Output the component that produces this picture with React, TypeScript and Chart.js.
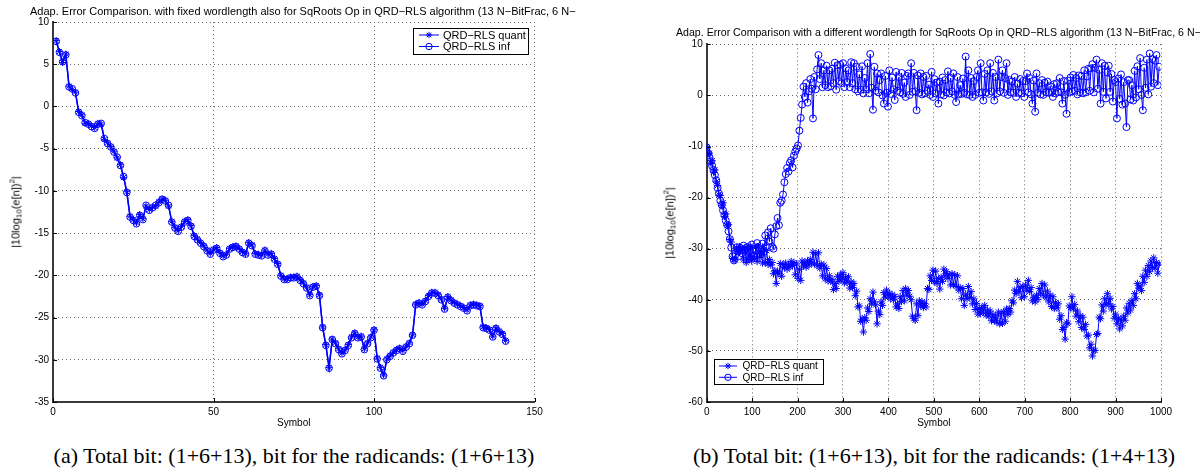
import React, { useEffect, useRef } from 'react';
import { Chart, registerables } from 'chart.js';

Chart.register(...registerables);

const SANS = '"Liberation Sans", Arial, Helvetica, sans-serif';
const SERIF = '"Liberation Serif", "Times New Roman", serif';
const BLUE = '#0000ff';

// ---- (a) fixed wordlength for the square-root operation ----
const symbolsA: number[] = Array.from({ length: 141 }, (_, i) => i + 1);

const errQuantA: number[] = [
  7.8, 6.5, 5.2, 6.2, 2.4, 2.0, 1.7, -0.6, -1.0, -2.0,
  -2.0, -2.3, -2.5, -2.0, -2.1, -3.9, -4.3, -4.75, -5.3, -6.1,
  -6.9, -8.4, -10.1, -13.0, -13.4, -13.8, -12.8, -13.3, -11.8, -12.2,
  -11.9, -11.8, -11.3, -10.95, -11.1, -11.8, -13.6, -14.3, -14.7, -14.2,
  -13.6, -13.4, -14.1, -15.3, -15.7, -16.1, -16.5, -17.0, -17.4, -16.9,
  -16.7, -17.3, -17.7, -17.5, -16.8, -16.6, -16.5, -16.8, -17.2, -17.45,
  -16.1, -16.4, -17.4, -17.5, -17.6, -17.0, -17.5, -17.4, -18.0, -18.6,
  -20.0, -20.4, -20.4, -20.2, -20.2, -20.1, -20.5, -20.9, -21.4, -22.3,
  -21.3, -21.2, -22.3, -26.1, -28.2, -30.9, -27.55, -28.0, -28.7, -29.2,
  -28.8, -28.2, -27.3, -26.8, -27.3, -27.2, -28.7, -28.0, -27.3, -26.45,
  -29.8, -30.9, -31.8, -29.9, -29.5, -29.1, -28.8, -28.6, -28.9, -28.4,
  -28.0, -27.05, -23.4, -23.2, -23.4, -23.0, -22.4, -22.0, -22.0, -22.3,
  -22.8, -23.9, -22.5, -22.9, -23.2, -23.4, -23.6, -23.8, -24.1, -23.5,
  -23.4, -23.5, -23.6, -26.1, -26.2, -26.4, -27.2, -26.2, -26.6, -26.9,
  -27.7,
];

const errInfA: number[] = [
  7.7, 6.4, 5.3, 6.1, 2.3, 2.1, 1.6, -0.7, -1.1, -1.9,
  -2.1, -2.4, -2.6, -2.1, -2.0, -3.8, -4.4, -4.8, -5.4, -6.0,
  -7.0, -8.3, -10.2, -13.1, -13.5, -13.9, -12.9, -13.4, -11.7, -12.3,
  -12.0, -11.7, -11.4, -11.0, -11.2, -11.7, -13.7, -14.4, -14.8, -14.3,
  -13.7, -13.5, -14.2, -15.4, -15.8, -16.2, -16.6, -17.1, -17.5, -17.0,
  -16.8, -17.4, -17.8, -17.6, -16.9, -16.7, -16.6, -16.9, -17.3, -17.5,
  -16.2, -16.5, -17.5, -17.6, -17.7, -17.1, -17.6, -17.5, -18.1, -18.7,
  -20.1, -20.5, -20.5, -20.3, -20.3, -20.2, -20.6, -21.0, -21.5, -22.4,
  -21.4, -21.3, -22.4, -26.2, -28.3, -31.0, -27.6, -28.1, -28.8, -29.3,
  -28.9, -28.3, -27.4, -26.9, -27.4, -27.3, -28.8, -28.1, -27.4, -26.5,
  -29.9, -31.0, -31.9, -30.0, -29.6, -29.2, -28.9, -28.7, -29.0, -28.5,
  -28.1, -27.1, -23.5, -23.3, -23.5, -23.1, -22.5, -22.1, -22.1, -22.4,
  -22.9, -24.0, -22.6, -23.0, -23.3, -23.5, -23.7, -23.9, -24.2, -23.6,
  -23.5, -23.6, -23.7, -26.2, -26.3, -26.5, -27.3, -26.3, -26.7, -27.0,
  -27.8,
];

const xTicksA: number[] = [0, 50, 100, 150];
const yTicksA: number[] = [10, 5, 0, -5, -10, -15, -20, -25, -30, -35];

// ---- (b) different wordlength for the square-root operation ----
// one sample every third symbol
const symbolsB: number[] = Array.from({ length: 333 }, (_, i) => i * 3);

const errQuantB: number[] = [
  -10.0, -11.4, -11.3, -13.2, -12.8, -15.0, -14.6, -16.9, -17.6, -19.5,
  -19.6, -21.6, -21.0, -23.7, -23.2, -25.5, -25.3, -28.2, -28.7, -31.9,
  -32.1, -32.2, -29.8, -30.6, -29.6, -30.5, -30.0, -32.2, -29.8, -32.7,
  -29.9, -32.1, -29.5, -32.4, -31.5, -31.9, -29.7, -32.5, -29.6, -31.7,
  -30.7, -32.8, -30.1, -32.7, -30.4, -33.0, -32.1, -33.2, -32.7, -34.9,
  -34.3, -36.8, -34.4, -34.9, -32.9, -35.4, -33.1, -33.7, -32.8, -34.0,
  -33.2, -33.6, -32.5, -33.3, -32.7, -35.1, -33.0, -35.8, -34.0, -36.2,
  -32.4, -33.4, -32.7, -33.6, -32.4, -33.2, -32.1, -32.8, -30.7, -33.0,
  -31.0, -33.3, -30.8, -33.8, -33.0, -35.3, -33.2, -35.9, -33.9, -36.3,
  -35.3, -36.4, -36.0, -38.0, -36.8, -37.8, -35.4, -36.4, -35.1, -36.0,
  -34.7, -36.7, -35.6, -36.6, -35.5, -37.7, -36.5, -37.6, -36.8, -39.2,
  -38.3, -41.4, -41.2, -44.2, -43.8, -46.3, -43.5, -44.0, -41.6, -42.3,
  -39.8, -40.8, -38.5, -40.4, -41.0, -44.7, -42.2, -42.9, -40.4, -41.1,
  -38.6, -39.5, -38.1, -39.2, -38.7, -39.8, -39.0, -40.0, -39.3, -41.4,
  -40.8, -41.7, -39.4, -40.3, -38.2, -40.2, -37.8, -39.1, -38.2, -39.3,
  -40.0, -43.2, -43.7, -44.0, -40.8, -43.1, -40.2, -41.2, -40.4, -41.5,
  -40.7, -41.4, -37.8, -38.0, -35.3, -36.2, -34.2, -36.4, -34.4, -36.8,
  -35.8, -37.9, -35.6, -36.4, -34.0, -35.3, -34.5, -35.8, -35.1, -37.1,
  -34.9, -37.0, -35.1, -37.4, -35.3, -38.1, -37.6, -39.8, -37.8, -41.1,
  -38.9, -39.8, -37.4, -39.5, -38.4, -40.8, -39.8, -41.9, -40.7, -42.8,
  -41.7, -42.7, -41.5, -42.4, -41.1, -43.0, -42.0, -43.2, -42.2, -44.1,
  -42.9, -44.1, -43.2, -44.4, -42.4, -44.7, -42.7, -44.6, -42.3, -44.2,
  -41.8, -42.9, -41.7, -42.4, -40.2, -40.6, -38.1, -38.8, -36.4, -38.4,
  -37.5, -39.6, -37.4, -39.4, -37.1, -38.1, -36.2, -38.4, -37.6, -40.2,
  -39.5, -40.4, -39.1, -39.9, -37.8, -38.7, -36.8, -39.1, -37.1, -39.6,
  -38.3, -40.4, -39.1, -41.3, -39.4, -41.7, -40.5, -41.6, -40.8, -43.8,
  -43.1, -45.8, -45.4, -47.7, -44.5, -44.7, -41.2, -41.5, -39.4, -41.8,
  -40.9, -43.2, -42.2, -44.3, -43.1, -45.4, -43.4, -45.8, -44.8, -47.1,
  -46.9, -49.4, -48.7, -51.0, -49.9, -49.9, -46.8, -46.6, -43.4, -43.7,
  -41.0, -42.2, -39.8, -41.0, -38.8, -40.8, -39.7, -41.8, -41.3, -43.6,
  -42.8, -44.7, -43.6, -45.7, -43.8, -45.1, -43.2, -44.0, -41.6, -42.6,
  -40.7, -42.0, -40.1, -41.1, -38.8, -39.8, -36.8, -37.7, -37.3, -38.2,
  -35.4, -36.6, -34.2, -35.4, -33.3, -34.5, -32.4, -33.7, -31.8, -33.8,
  -32.7, -34.8, -33.0,
];

const errInfB: number[] = [
  -10.2, -11.3, -12.1, -12.9, -13.8, -14.6, -15.6, -16.6, -18.1, -19.2,
  -20.6, -21.4, -22.5, -23.4, -24.5, -25.3, -26.6, -28.1, -29.8, -31.5,
  -32.3, -31.2, -29.7, -30.5, -31.4, -29.9, -30.9, -29.4, -30.3, -31.2,
  -29.7, -30.6, -31.8, -29.2, -30.1, -31.4, -30.4, -28.9, -29.8, -31.0,
  -30.5, -29.0, -30.6, -27.4, -29.5, -26.8, -28.6, -26.0, -29.6, -30.0,
  -27.2, -25.6, -24.0, -25.4, -21.0, -20.6, -19.4, -17.0, -15.4, -14.2,
  -14.9, -13.2, -12.7, -14.1, -11.8, -11.0, -10.4, -9.8, -6.9, -4.4,
  -1.8, 1.7, -0.3, 2.4, -1.4, 0.8, 3.2, 1.3, -4.5, 3.6,
  1.2, 5.1, 7.9, 3.2, 6.3, 1.6, 4.9, 2.0, 5.8, 1.6,
  4.9, 1.8, 5.2, 2.4, 6.4, 1.1, 5.9, 2.8, 6.0, 2.4,
  6.3, 1.6, 5.3, 2.6, 4.9, 1.6, 6.5, 2.4, 6.3, 1.2,
  5.6, 0.8, 4.1, 1.1, 5.7, 0.4, 3.4, 1.2, 6.3, 0.4,
  8.1, 1.5, -2.8, 5.6, 0.9, 4.3, 0.6, 3.0, 4.3, 0.0,
  -1.6, 3.8, 0.5, -2.2, 4.9, 0.3, 3.5, 1.2, -0.9, 4.6,
  0.9, 3.6, 0.6, 4.4, 0.3, 2.5, -0.3, 3.8, 4.3, 0.1,
  6.3, 0.7, 4.4, 0.8, -2.9, 3.9, 0.5, 4.3, 0.2, 3.6,
  0.4, 3.8, 0.9, 2.1, 0.1, 4.6, -0.3, 3.2, 0.4, 2.5,
  -1.6, 2.7, 0.2, 3.5, 0.0, 3.0, 0.6, 4.7, 0.4, 3.4,
  0.8, 4.3, 0.1, -1.3, 3.6, 0.2, 2.0, 0.3, 3.3, 0.5,
  7.6, 0.2, 4.9, 0.1, 3.4, -0.3, 2.8, 0.1, 3.6, 4.9,
  0.5, 6.3, 0.6, -1.0, 4.2, 0.6, 4.9, 0.3, 6.3, 0.8,
  4.4, -1.0, 3.6, 0.4, 7.0, 0.8, 3.6, 4.9, 0.5, 3.4,
  6.3, 0.1, 3.0, 0.6, 2.7, 0.5, 3.6, -0.3, 2.3, 0.5,
  3.2, 0.4, 2.8, -0.3, 2.8, 4.3, 0.6, 3.4, 0.2, -1.6,
  2.9, -3.2, 4.3, 0.5, 2.4, 0.2, 3.0, 0.1, 2.5, 0.6,
  2.7, 0.5, 1.8, 0.6, -0.3, 2.2, 0.4, 2.4, 0.7, 3.4,
  0.6, -1.6, 2.8, 0.1, -3.6, 2.9, 0.6, 3.5, 0.8, 4.0,
  0.9, 3.4, 0.2, 3.9, 0.6, 3.8, 0.4, 4.9, 0.6, 3.7,
  5.2, 0.9, 5.3, 6.1, 0.6, 5.4, 7.0, 1.3, 5.0, -1.6,
  6.3, 0.7, 5.8, -0.6, 4.5, 5.8, 0.7, 4.2, -1.2, 3.0,
  2.6, -4.5, 3.3, -0.7, 4.1, -1.8, 2.6, -1.6, -6.2, 3.0,
  3.0, -0.8, 2.0, -1.0, 4.8, -0.4, 5.7, 1.2, 7.3, 0.1,
  -2.9, 5.4, 1.5, 7.0, 0.2, 8.2, 1.7, 7.1, 2.4, 6.8,
  7.9, 2.0, 5.6,
];

const xTicksB: number[] = [0, 100, 200, 300, 400, 500, 600, 700, 800, 900, 1000];
const yTicksB: number[] = [10, 0, -10, -20, -30, -40, -50, -60];

const seriesLabels: string[] = ['QRD\u2212RLS quant', 'QRD\u2212RLS inf'];

const titleA =
  'Adap. Error Comparison. with fixed wordlength also for SqRoots Op in QRD\u2212RLS algorithm (13 N\u2212BitFrac, 6 N\u2212';
const titleB =
  'Adap. Error Comparison with a different wordlength for SqRoots Op in QRD\u2212RLS algorithm (13 N\u2212BitFrac, 6 N\u2212';
const captionA = '(a)  Total bit: (1+6+13), bit for the radicands: (1+6+13)';
const captionB = '(b)  Total bit: (1+6+13), bit for the radicands: (1+4+13)';

// ---- drawing helpers ----
function drawMarker(ctx: CanvasRenderingContext2D, style: string, x: number, y: number, r: number) {
  ctx.beginPath();
  if (style === 'circle') {
    ctx.arc(x, y, r, 0, Math.PI * 2);
  } else {
    const d = r * Math.SQRT1_2;
    ctx.moveTo(x - r, y); ctx.lineTo(x + r, y);
    ctx.moveTo(x, y - r); ctx.lineTo(x, y + r);
    ctx.moveTo(x - d, y - d); ctx.lineTo(x + d, y + d);
    ctx.moveTo(x - d, y + d); ctx.lineTo(x + d, y - d);
  }
  ctx.stroke();
}

type LegendBox = {
  x: number; y: number; w: number; h: number;
  rows: number[]; line: [number, number]; textX: number; fontSize: number;
};

function boxLegend(box: LegendBox) {
  return {
    id: 'boxLegend',
    afterDraw(chart: any) {
      const ctx: CanvasRenderingContext2D = chart.ctx;
      ctx.save();
      ctx.fillStyle = '#ffffff';
      ctx.fillRect(box.x, box.y, box.w, box.h);
      ctx.strokeStyle = '#000000';
      ctx.lineWidth = 1;
      ctx.strokeRect(box.x + 0.5, box.y + 0.5, box.w, box.h);
      chart.data.datasets.forEach((ds: any, i: number) => {
        const y = box.rows[i];
        ctx.strokeStyle = ds.borderColor;
        ctx.lineWidth = 1;
        ctx.beginPath();
        ctx.moveTo(box.line[0], y);
        ctx.lineTo(box.line[1], y);
        ctx.stroke();
        drawMarker(ctx, ds.pointStyle, (box.line[0] + box.line[1]) / 2, y, 3.2);
        ctx.fillStyle = '#000000';
        ctx.font = `${box.fontSize}px ${SANS}`;
        ctx.textBaseline = 'middle';
        ctx.textAlign = 'left';
        ctx.fillText(ds.label, box.textX, y + 0.5);
      });
      ctx.restore();
    },
  };
}

// Short tick marks pointing into the plot on the left and bottom axes
const inwardTicks = {
  id: 'inwardTicks',
  afterDraw(chart: any) {
    const { ctx, chartArea: a, scales } = chart;
    ctx.save();
    ctx.strokeStyle = '#000000';
    ctx.lineWidth = 1;
    ctx.beginPath();
    scales.x.ticks.forEach((t: any) => {
      const px = Math.round(scales.x.getPixelForValue(t.value)) + 0.5;
      ctx.moveTo(px, a.bottom);
      ctx.lineTo(px, a.bottom - 4);
    });
    scales.y.ticks.forEach((t: any) => {
      const py = Math.round(scales.y.getPixelForValue(t.value)) + 0.5;
      ctx.moveTo(a.left, py);
      ctx.lineTo(a.left + 4, py);
    });
    ctx.stroke();
    ctx.restore();
  },
};

type ChartSpec = {
  xs: number[];
  quant: number[];
  inf: number[];
  xTicks: number[];
  yTicks: number[];
  yAxisWidth: number;
  padTop: number;
  padRight: number;
  lineWidth: number;
  markerRadius: number;
  legend: LegendBox;
};

function buildConfig(s: ChartSpec): any {
  const pts = (vals: number[]) => vals.map((v, i) => ({ x: s.xs[i], y: v }));
  const axisCommon = {
    type: 'linear',
    grid: { color: '#6a6a6a', lineWidth: 1, drawTicks: false },
    border: { display: true, color: '#3a3a3a', width: 2, dash: [1, 3] },
    ticks: {
      color: '#000000',
      font: { family: SANS, size: 10 },
      padding: 4,
      autoSkip: false,
      maxRotation: 0,
      callback: (v: number) => String(v),
    },
  };
  return {
    type: 'scatter',
    data: {
      datasets: [
        {
          label: seriesLabels[0],
          data: pts(s.quant),
          showLine: true,
          borderColor: BLUE,
          borderWidth: s.lineWidth,
          pointStyle: 'star',
          pointRadius: s.markerRadius + 0.2,
          pointBorderWidth: 1,
          pointBorderColor: BLUE,
          pointBackgroundColor: 'rgba(0,0,0,0)',
        },
        {
          label: seriesLabels[1],
          data: pts(s.inf),
          showLine: true,
          borderColor: BLUE,
          borderWidth: s.lineWidth,
          pointStyle: 'circle',
          pointRadius: s.markerRadius,
          pointBorderWidth: 1,
          pointBorderColor: BLUE,
          pointBackgroundColor: 'rgba(0,0,0,0)',
        },
      ],
    },
    options: {
      animation: false,
      responsive: false,
      devicePixelRatio: 1,
      events: [],
      layout: { padding: { left: 0, top: s.padTop, right: s.padRight, bottom: 0 } },
      plugins: { legend: { display: false }, title: { display: false }, tooltip: { enabled: false } },
      scales: {
        x: {
          ...axisCommon,
          min: s.xTicks[0],
          max: s.xTicks[s.xTicks.length - 1],
          afterBuildTicks: (sc: any) => { sc.ticks = s.xTicks.map((v) => ({ value: v })); },
          afterFit: (sc: any) => { sc.height = 28; },
          title: {
            display: true,
            text: 'Symbol',
            color: '#000000',
            font: { family: SANS, size: 10 },
            padding: { top: 0, bottom: 1 },
          },
        },
        y: {
          ...axisCommon,
          min: s.yTicks[s.yTicks.length - 1],
          max: s.yTicks[0],
          afterBuildTicks: (sc: any) => { sc.ticks = s.yTicks.map((v) => ({ value: v })); },
          afterFit: (sc: any) => { sc.width = s.yAxisWidth; },
        },
      },
    },
    plugins: [inwardTicks, boxLegend(s.legend)],
  };
}

function ErrorChart({ spec, left }: { spec: ChartSpec; left: number }) {
  const ref = useRef<HTMLCanvasElement>(null);
  useEffect(() => {
    const chart = new Chart(ref.current as HTMLCanvasElement, buildConfig(spec));
    return () => chart.destroy();
  }, [spec]);
  return (
    <canvas
      ref={ref}
      width={600}
      height={430}
      style={{ position: 'absolute', left, top: 0, width: 600, height: 430 }}
    />
  );
}

function YLabel({ x, y }: { x: number; y: number }) {
  return (
    <div
      style={{
        position: 'absolute',
        left: x,
        top: y,
        transform: 'translate(-50%, -50%) rotate(-90deg)',
        whiteSpace: 'nowrap',
        fontFamily: SANS,
        fontSize: 11,
        lineHeight: 1,
        color: '#000',
      }}
    >
      |10log<sub style={{ fontSize: 8, verticalAlign: -2 }}>10</sub>(e[n])
      <sup style={{ fontSize: 8, verticalAlign: 5 }}>2</sup>|
    </div>
  );
}

const specA: ChartSpec = {
  xs: symbolsA,
  quant: errQuantA,
  inf: errInfA,
  xTicks: xTicksA,
  yTicks: yTicksA,
  yAxisWidth: 53,
  padTop: 22,
  padRight: 65.5,
  lineWidth: 1.4,
  markerRadius: 3.3,
  legend: { x: 413, y: 28, w: 115, h: 26, rows: [35, 46.5], line: [419, 439], textX: 443, fontSize: 11 },
};

const specB: ChartSpec = {
  xs: symbolsB,
  quant: errQuantB,
  inf: errInfB,
  xTicks: xTicksB,
  yTicks: yTicksB,
  yAxisWidth: 106.7,
  padTop: 44.3,
  padRight: 39,
  lineWidth: 1,
  markerRadius: 3.5,
  legend: { x: 114, y: 359, w: 109, h: 25, rows: [366, 377.3], line: [119, 137], textX: 142.5, fontSize: 10 },
};

export default function App() {
  const textStyle: React.CSSProperties = {
    position: 'absolute',
    whiteSpace: 'nowrap',
    fontFamily: SANS,
    lineHeight: '12px',
    color: '#000',
  };
  const capStyle: React.CSSProperties = {
    position: 'absolute',
    whiteSpace: 'nowrap',
    fontFamily: SERIF,
    fontSize: 22,
    lineHeight: '26px',
    color: '#000',
    transform: 'translateX(-50%)',
  };
  return (
    <div
      style={{
        position: 'fixed',
        left: 0,
        top: 0,
        width: 1200,
        height: 472,
        background: '#ffffff',
        overflow: 'hidden',
      }}
    >
      <ErrorChart spec={specA} left={0} />
      <ErrorChart spec={specB} left={600} />
      <div style={{ ...textStyle, fontSize: 11, left: 30, top: 5 }}>{titleA}</div>
      <div style={{ ...textStyle, fontSize: 10.6, left: 676, top: 26 }}>{titleB}</div>
      <YLabel x={16} y={212} />
      <YLabel x={670} y={223} />
      <div style={{ ...capStyle, left: 294, top: 443 }}>{captionA}</div>
      <div style={{ ...capStyle, left: 934, top: 443 }}>{captionB}</div>
    </div>
  );
}
